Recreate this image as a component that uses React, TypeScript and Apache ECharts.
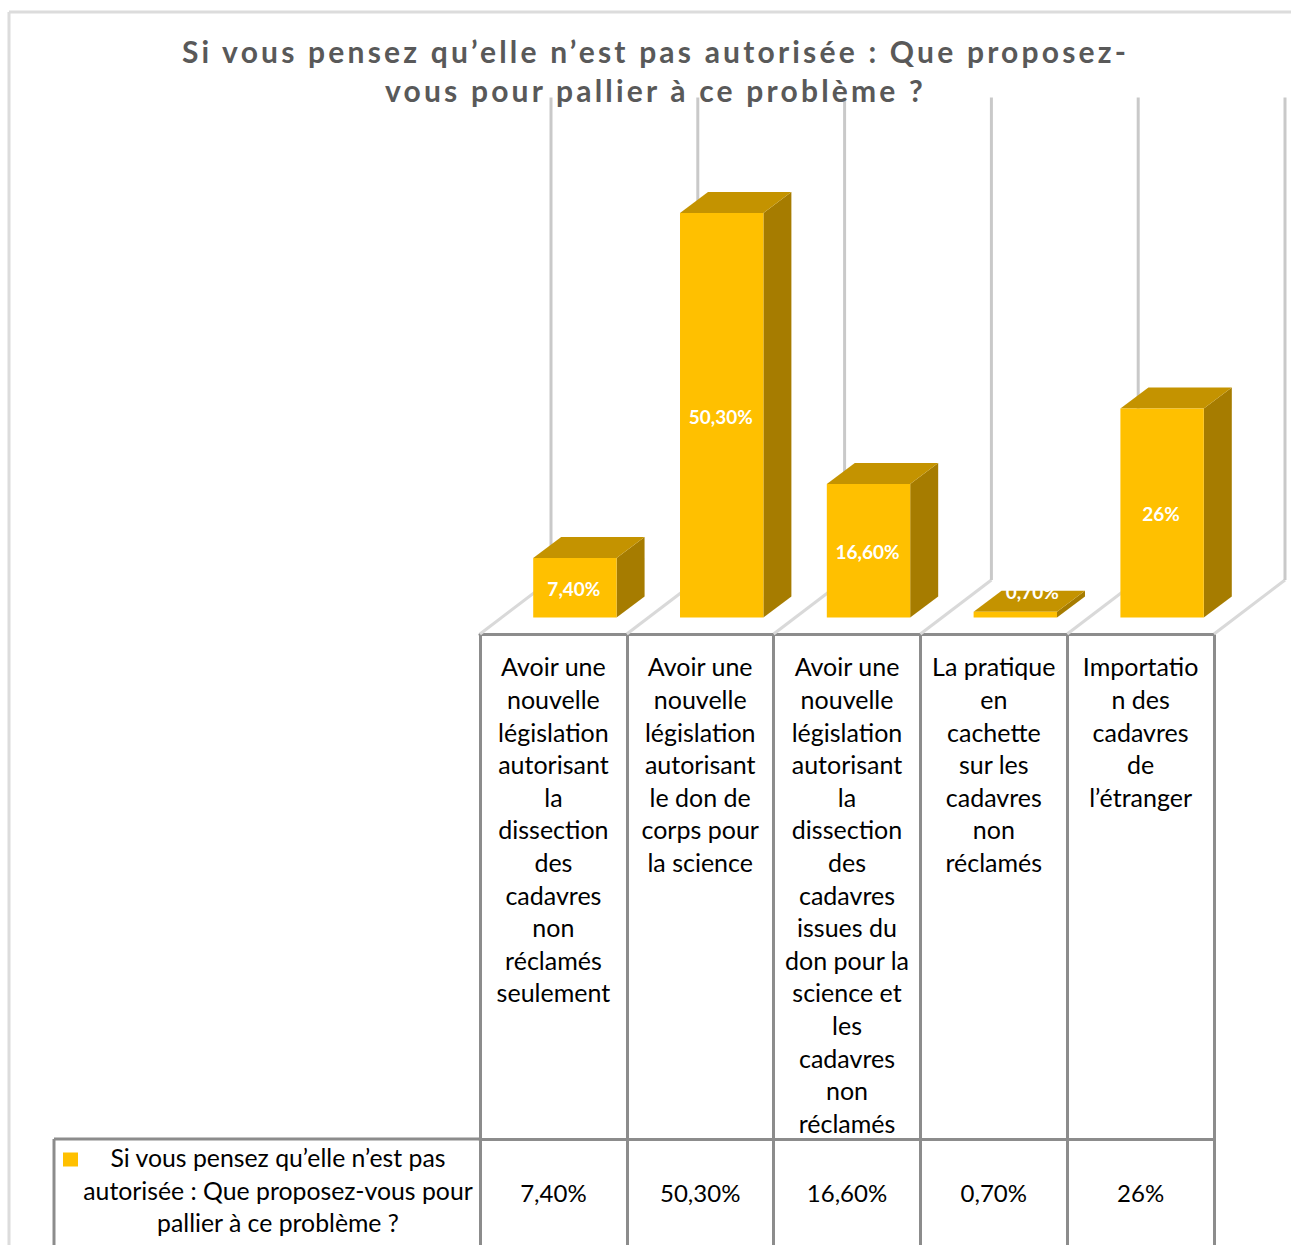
import React, { useEffect, useRef } from "react";
import * as echarts from "echarts";

const titleLines = [
  "Si vous pensez qu’elle n’est pas autorisée : Que proposez-",
  "vous pour pallier à ce problème ?",
];
const categories = [
  "Avoir une\nnouvelle\nlégislation\nautorisant\nla\ndissection\ndes\ncadavres\nnon\nréclamés\nseulement",
  "Avoir une\nnouvelle\nlégislation\nautorisant\nle don de\ncorps pour\nla science",
  "Avoir une\nnouvelle\nlégislation\nautorisant\nla\ndissection\ndes\ncadavres\nissues du\ndon pour la\nscience et\nles\ncadavres\nnon\nréclamés",
  "La pratique\nen\ncachette\nsur les\ncadavres\nnon\nréclamés",
  "Importatio\nn des\ncadavres\nde\nl’étranger",
];
const seriesValues = [7.4, 50.3, 16.6, 0.7, 26];
const valueLabels = ["7,40%", "50,30%", "16,60%", "0,70%", "26%"];
const legendLines = "Si vous pensez qu’elle n’est pas\nautorisée : Que proposez-vous pour\npallier à ce problème ?";

const FONT = "Lato, 'Open Sans', sans-serif";
const TABLE_LINE = "#8c8c8c";
const FLOOR_DEPTH = [71, -54];
const BAR_SHIFT = [21.5, -16.5];
const BAR_DEPTH = [28, -21];

function renderWalls(params: any, api: any) {
  const band = api.size([1, 0])[0];
  const [cx, floorY] = api.coord([params.dataIndex, 0]);
  const topY = api.coord([params.dataIndex, 60])[1];
  const edges = [cx - band / 2];
  if (params.dataIndex === categories.length - 1) edges.push(cx + band / 2);
  const children: any[] = [];
  edges.forEach((x) => {
    const bx = x + FLOOR_DEPTH[0];
    const by = floorY + FLOOR_DEPTH[1];
    children.push({
      type: "line",
      shape: { x1: x, y1: floorY, x2: bx, y2: by },
      style: { stroke: "#d9d9d9", lineWidth: 3 },
    });
    children.push({
      type: "line",
      shape: { x1: bx, y1: by, x2: bx, y2: topY + FLOOR_DEPTH[1] },
      style: { stroke: "#c9c9c9", lineWidth: 3 },
    });
  });
  return { type: "group", children };
}

function renderBars(params: any, api: any) {
  const band = api.size([1, 0])[0];
  const w = band * 0.568;
  const base = api.coord([api.value(0), 0]);
  const head = api.coord([api.value(0), api.value(1)]);
  const l = base[0] + BAR_SHIFT[0] - w / 2;
  const r = l + w;
  const bottom = base[1] + BAR_SHIFT[1];
  const top = head[1] + BAR_SHIFT[1];
  const [dx, dy] = BAR_DEPTH;
  const thin = bottom - top < 20;
  return {
    type: "group",
    children: [
      {
        type: "polygon",
        shape: { points: [[r, top], [r + dx, top + dy], [r + dx, bottom + dy], [r, bottom]] },
        style: { fill: "#a67c00" },
      },
      {
        type: "polygon",
        shape: { points: [[l, top], [l + dx, top + dy], [r + dx, top + dy], [r, top]] },
        style: { fill: "#c49300" },
      },
      { type: "rect", shape: { x: l, y: top, width: w, height: bottom - top }, style: { fill: "#ffc000" } },
      {
        type: "text",
        x: thin ? (l + r) / 2 + 17 : (l + r) / 2 - 1,
        y: thin ? top - 20 : (top + bottom) / 2 + 1,
        style: {
          text: valueLabels[params.dataIndex],
          fill: "#ffffff",
          font: `bold 19px ${FONT}`,
          align: "center",
          verticalAlign: "middle",
        },
      },
    ],
  };
}

export default function App() {
  const ref = useRef<HTMLDivElement>(null);

  useEffect(() => {
    document.body.style.margin = "0";
    const chart = echarts.init(ref.current!, undefined, { renderer: "svg" });
    chart.setOption({
      animation: false,
      backgroundColor: "#ffffff",
      title: {
        text: titleLines.join("\n"),
        left: 650.5,
        top: 26,
        textAlign: "center",
        textStyle: { fontFamily: FONT, fontWeight: "bold", fontSize: 30, lineHeight: 39, color: "#595959" },
      },
      grid: { left: 480, width: 734, top: 151.6, height: 482.4 },
      xAxis: [
        {
          type: "category",
          data: categories,
          axisLine: { lineStyle: { color: TABLE_LINE, width: 3 } },
          axisTick: { show: true, length: 611, lineStyle: { color: TABLE_LINE, width: 3 } },
          axisLabel: {
            interval: 0,
            margin: 16,
            color: "#000000",
            fontFamily: FONT,
            fontSize: 25,
            lineHeight: 32.6,
            verticalAlign: "top",
          },
        },
        {
          type: "category",
          position: "bottom",
          offset: 505,
          data: valueLabels,
          axisLine: { show: true, lineStyle: { color: TABLE_LINE, width: 3 } },
          axisTick: { show: false },
          axisLabel: { interval: 0, margin: 41, color: "#000000", fontFamily: FONT, fontSize: 24 },
        },
      ],
      yAxis: { type: "value", min: 0, max: 60, show: false },
      series: [
        {
          type: "custom",
          name: "walls",
          silent: true,
          z: 1,
          xAxisIndex: 0,
          renderItem: renderWalls,
          data: seriesValues.map((_, i) => [i, 0]),
        },
        {
          type: "custom",
          name: titleLines.join(" "),
          z: 2,
          xAxisIndex: 0,
          renderItem: renderBars,
          data: seriesValues.map((v, i) => [i, v]),
        },
      ],
      graphic: [
        { type: "line", shape: { x1: 9, y1: 12, x2: 1291, y2: 12 }, style: { stroke: "#dcdcdc", lineWidth: 3 } },
        { type: "line", shape: { x1: 9, y1: 12, x2: 9, y2: 1245 }, style: { stroke: "#dcdcdc", lineWidth: 3 } },
        { type: "line", shape: { x1: 54, y1: 1139, x2: 480, y2: 1139 }, style: { stroke: TABLE_LINE, lineWidth: 3 } },
        { type: "line", shape: { x1: 54, y1: 1139, x2: 54, y2: 1245 }, style: { stroke: TABLE_LINE, lineWidth: 3 } },
        { type: "rect", shape: { x: 63, y: 1152.5, width: 15, height: 14 }, style: { fill: "#ffc000" } },
        {
          type: "text",
          x: 278,
          y: 1190,
          style: {
            text: legendLines,
            fill: "#000000",
            font: `24.8px ${FONT}`,
            lineHeight: 32.6,
            align: "center",
            verticalAlign: "middle",
          },
        },
      ],
    });
    // zrender has no letter-spacing option, so it is set on the rendered title lines
    chart
      .getDom()
      .querySelectorAll("svg text")
      .forEach((node) => {
        if (titleLines.includes(node.textContent || "")) {
          (node as SVGTextElement).style.letterSpacing = "3.2px";
        }
      });
    return () => chart.dispose();
  }, []);

  return <div ref={ref} style={{ position: "absolute", left: 0, top: 0, width: 1291, height: 1245 }} />;
}
